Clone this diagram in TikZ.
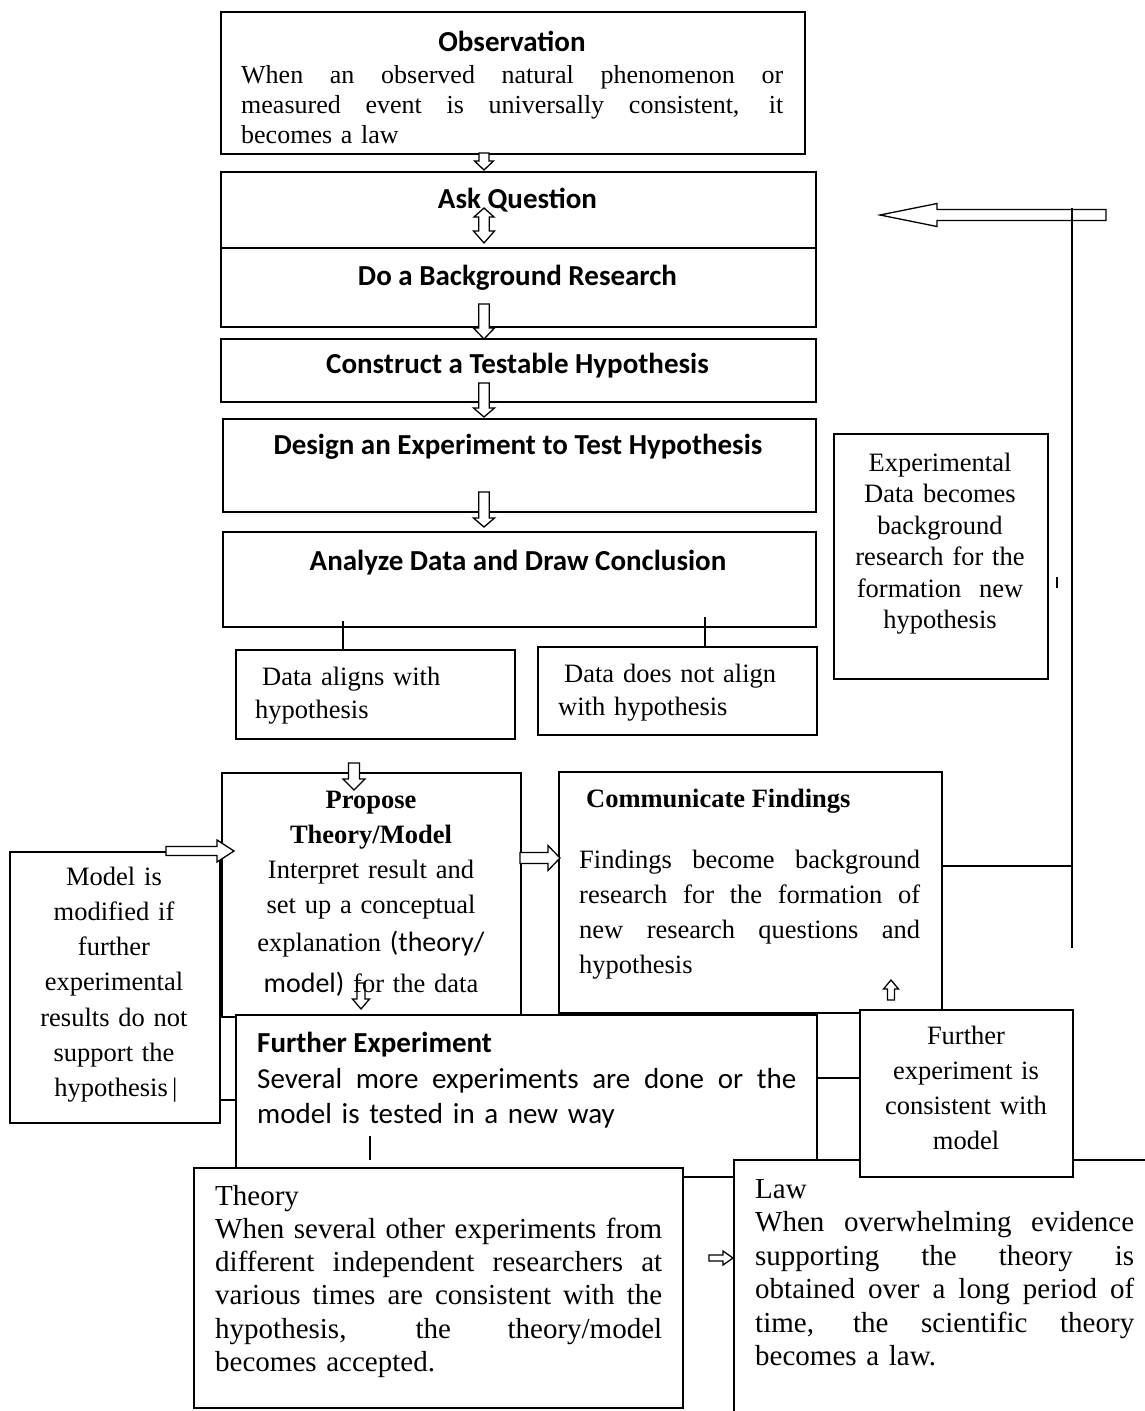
\documentclass[tikz,border=0pt]{standalone}
\usepackage{fontspec}
\setmainfont{Liberation Serif}
\newfontfamily\calfont{Carlito}
\newcommand\jl[2]{\leavevmode\hbox to #1{\spaceskip=0.25em plus 1fil\relax\xspaceskip=\spaceskip #2}\\}
\newcommand\varrow[6]{\draw[blockarrow] (#1-#5,#2) -- (#1+#5,#2) -- (#1+#5,#3) -- (#1+#6,#3) -- (#1,#4) -- (#1-#6,#3) -- (#1-#5,#3) -- cycle;}
\newcommand\harrow[6]{\draw[blockarrow] (#2,#1-#5) -- (#3,#1-#5) -- (#3,#1-#6) -- (#4,#1) -- (#3,#1+#6) -- (#3,#1+#5) -- (#2,#1+#5) -- cycle;}
\begin{document}
\begin{tikzpicture}[x=1pt,y=-1pt,
  bx/.style={draw, line width=1.8pt, fill=white, inner sep=0pt, anchor=north west},
  tx/.style={inner sep=0pt, anchor=base west},
  ctx/.style={inner sep=0pt, anchor=base},
  conn/.style={line width=1.8pt},
  blockarrow/.style={draw, line width=1.3pt, fill=white, line join=miter},
  head/.style={font=\calfont\bfseries\fontsize{29}{35}\selectfont},
  serif/.style={font=\fontsize{26.5}{35}\selectfont}]
\fill[white] (0,0) rectangle (1145,1411);
\useasboundingbox (0,0) rectangle (1145,1411);

% ---------- boxes ----------
\node[bx, minimum width=584pt, minimum height=142pt] (obs) at (220,11) {};
\node[bx, minimum width=595pt, minimum height=76pt] (ask) at (220,171) {};
\node[bx, minimum width=595pt, minimum height=79pt] (bg) at (220,247) {};
\node[bx, minimum width=595pt, minimum height=63pt] (con) at (220,338) {};
\node[bx, minimum width=593pt, minimum height=93pt] (des) at (222,418) {};
\node[bx, minimum width=593pt, minimum height=95pt] (ana) at (222,531) {};
\node[bx, minimum width=279pt, minimum height=89pt] (da) at (235,649) {};
\node[bx, minimum width=279pt, minimum height=88pt] (dn) at (537,646) {};
\node[bx, minimum width=299pt, minimum height=244pt] (prop) at (221,772) {};
\node[bx, minimum width=210pt, minimum height=271pt] (mod) at (9,851) {};
\node[bx, minimum width=383pt, minimum height=241pt] (com) at (558,771) {};
\node[bx, minimum width=214pt, minimum height=245pt] (exd) at (833,433) {};
\node[bx, minimum width=581pt, minimum height=162pt] (fe) at (235,1014) {};
\node[fill=white, inner sep=0pt, anchor=north west, minimum width=415pt, minimum height=255pt] (law) at (734,1160) {};
\draw[conn] (law.south west) -- (law.north west) -- (law.north east);
\node[bx, minimum width=213pt, minimum height=167pt] (fc) at (859,1009) {};
\node[bx, minimum width=489pt, minimum height=240pt] (th) at (193,1167) {};

% ---------- block arrows ----------
\varrow{484}{153}{161}{170}{5}{9.5}
\draw[blockarrow] (484,208) -- (494,217) -- (489.3,217) -- (489.3,231) -- (494.5,231) -- (484,243) -- (473.5,231) -- (478.7,231) -- (478.7,217) -- (474,217) -- cycle;
\varrow{484}{304}{328}{339}{5.3}{10.5}
\varrow{484}{383}{408}{417}{5.3}{10.5}
\varrow{484}{492}{518}{527}{5.3}{10.5}
\varrow{354}{763}{779}{790}{5.5}{11}
\harrow{851}{166}{217}{234}{4.5}{11}
\harrow{858}{520}{548}{560}{5.5}{12.5}
\varrow{361}{983}{999}{1009}{4}{8.5}
\varrow{891}{1000}{989}{980}{3.5}{7.5}
\harrow{215}{1106}{937}{880}{5.5}{11.5}
\harrow{1258}{709}{723}{733}{3}{7}

% ---------- connectors ----------
\coordinate (l1) at (343,621);
\draw[conn] (l1) -- (l1 |- da.north);
\coordinate (l2) at (705,617);
\draw[conn] (l2) -- (l2 |- dn.north);
\coordinate (vt) at (1072,208);
\coordinate (vb) at (1072,948);
\draw[conn] (vt) -- (vb);
\coordinate (c1) at (941,866);
\draw[conn] (c1) -- (c1 -| vt);
\coordinate (t1) at (1057,577);
\draw[conn, line width=1.5pt] (t1) -- ++(0,11);
\coordinate (m1) at (219,1100);
\draw[conn] (m1) -- (m1 -| fe.west);
\coordinate (f1) at (816,1078);
\draw[conn] (f1) -- (f1 -| fc.west);
\coordinate (t2) at (370,1136);
\draw[conn] (t2) -- ++(0,24);

% ---------- texts ----------
\node[ctx, head] (obsT) at (512,51) {Observation};
\node[tx, text width=542pt, align=left, font=\fontsize{26}{30}\selectfont] (obsB) at (241,83)
  {\jl{542pt}{When an observed natural phenomenon or}\jl{542pt}{measured event is universally consistent, it}becomes a law};
\node[ctx, head] (askT) at (517.5,208) {Ask Question};
\node[ctx, head] (bgT) at (517.5,285) {Do a Background Research};
\node[ctx, head] (conT) at (517.5,373) {Construct a Testable Hypothesis};
\node[ctx, head] (desT) at (518,454) {Design an Experiment to Test Hypothesis};
\node[ctx, head] (anaT) at (518,570) {Analyze Data and Draw Conclusion};
\node[tx, text width=250pt, align=left, font=\fontsize{26.5}{33}\selectfont] (daT) at (255,685)
  {\hspace*{7pt}Data aligns with\\hypothesis};
\node[tx, text width=250pt, align=left, font=\fontsize{26.5}{33}\selectfont] (dnT) at (558,682)
  {\hspace*{6pt}Data does not align\\with hypothesis};
\node[ctx, text width=290pt, align=center, serif] (propT) at (371,808)
  {{\bfseries Propose\\Theory/Model}\\Interpret result and\\set up a conceptual\\[3pt]explanation {\calfont\fontsize{28}{35}\selectfont (theory/}\\[6pt]{\calfont\fontsize{28}{35}\selectfont model)} for the data};
\node[ctx, text width=205pt, align=center, font=\fontsize{26.5}{35.3}\selectfont] (modT) at (114,885)
  {Model is\\modified if\\further\\experimental\\results do not\\support the\\\hspace*{4pt}hypothesis\,|};
\node[tx, font=\bfseries\fontsize{26.5}{35}\selectfont] (comT) at (586,807) {Communicate Findings};
\node[tx, text width=341pt, align=left, serif] (comB) at (579,868)
  {\jl{341pt}{Findings become background}\jl{341pt}{research for the formation of}\jl{341pt}{new research questions and}hypothesis};
\node[ctx, text width=210pt, align=center, font=\fontsize{26.5}{31.5}\selectfont] (exdT) at (940,471)
  {Experimental\\Data becomes\\background\hspace*{7pt}\\research for the\\formation\ \ new\\hypothesis};
\node[tx, head] (feT) at (257,1052) {Further Experiment};
\node[tx, text width=539pt, align=left, font=\calfont\fontsize{29}{35}\selectfont] (feB) at (257,1088)
  {\jl{539pt}{Several more experiments are done or the}model is tested in a new way};
\node[ctx, text width=205pt, align=center, font=\fontsize{26.5}{35}\selectfont] (fcT) at (966,1044)
  {Further\\experiment is\\consistent with\\model};
\node[tx, text width=447pt, align=left, font=\fontsize{29}{33.3}\selectfont] (thT) at (215,1205)
  {Theory\\\jl{447pt}{When several other experiments from}\jl{447pt}{different independent researchers at}\jl{447pt}{various times are consistent with the}\jl{447pt}{hypothesis, the theory/model}becomes accepted.};
\node[tx, text width=379pt, align=left, font=\fontsize{29}{33.5}\selectfont] (lawT) at (755,1198)
  {Law\\\jl{379pt}{When overwhelming evidence}\jl{379pt}{supporting the theory is}\jl{379pt}{obtained over a long period of}\jl{379pt}{time, the scientific theory}becomes a law.};
\end{tikzpicture}
\end{document}
